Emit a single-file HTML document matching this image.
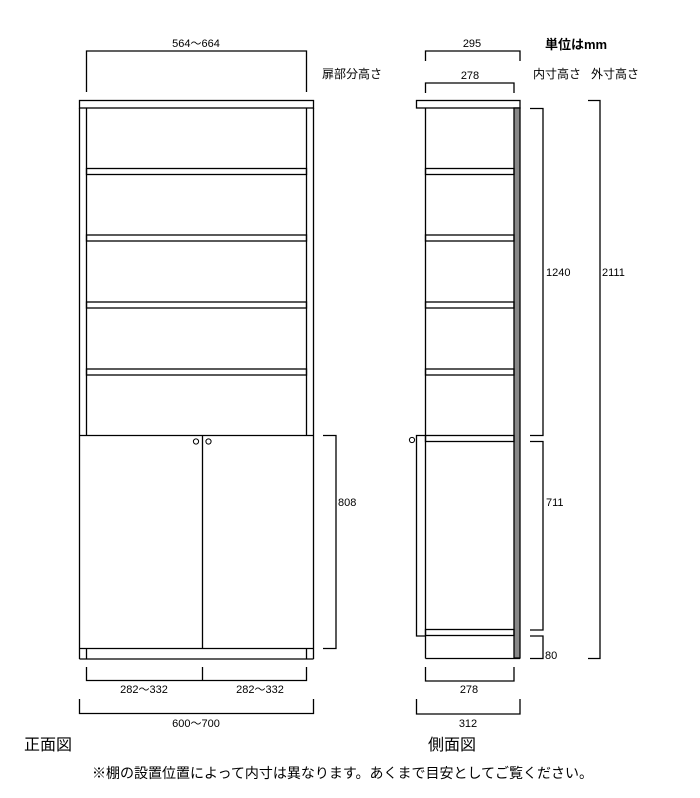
<!DOCTYPE html>
<html><head><meta charset="utf-8"><style>
body{margin:0;background:#fff;}
svg{display:block;}
text{font-family:"Liberation Sans","Noto Sans CJK JP",sans-serif;fill:#000;}
</style></head><body>
<svg width="700" height="798" viewBox="0 0 700 798" xmlns="http://www.w3.org/2000/svg">
<g fill="none" stroke="#000" stroke-width="1.3">
<!-- FRONT -->
<rect x="79.5" y="100.5" width="234" height="7.5" fill="#fff"/>
<line x1="79.5" y1="108" x2="79.5" y2="659"/>
<line x1="86.5" y1="108" x2="86.5" y2="435"/>
<line x1="306.5" y1="108" x2="306.5" y2="435"/>
<line x1="313.5" y1="108" x2="313.5" y2="659"/>
<rect x="86.5" y="168.5" width="220" height="6"/>
<rect x="86.5" y="235" width="220" height="6"/>
<rect x="86.5" y="302" width="220" height="6"/>
<rect x="86.5" y="369" width="220" height="6"/>
<line x1="79.5" y1="435.5" x2="313.5" y2="435.5"/>
<line x1="202.5" y1="435.5" x2="202.5" y2="648"/>
<line x1="79.5" y1="648.5" x2="313.5" y2="648.5"/>
<line x1="79.5" y1="659" x2="313.5" y2="659"/>
<line x1="86.5" y1="648.5" x2="86.5" y2="659"/>
<line x1="306.5" y1="648.5" x2="306.5" y2="659"/>
<circle cx="196" cy="441.5" r="2.6" stroke-width="1"/>
<circle cx="208.5" cy="441.5" r="2.6" stroke-width="1"/>
<!-- front dims -->
<polyline points="86.5,92 86.5,51 306.5,51 306.5,92"/>
<polyline points="323,435.5 336,435.5 336,648.5 323,648.5"/>
<polyline points="86.5,667 86.5,680.5 306.5,680.5 306.5,667"/>
<line x1="202.5" y1="667" x2="202.5" y2="680.5"/>
<polyline points="79.5,699 79.5,713.5 313.5,713.5 313.5,699"/>
<!-- SIDE -->
<rect x="416.5" y="100.5" width="103.5" height="7.5" fill="#fff"/>
<rect x="514" y="108" width="6" height="550" fill="#888"/>
<line x1="425.5" y1="108" x2="425.5" y2="658.5"/>
<rect x="425.5" y="168.5" width="88.5" height="6"/>
<rect x="425.5" y="235" width="88.5" height="6"/>
<rect x="425.5" y="302" width="88.5" height="6"/>
<rect x="425.5" y="369" width="88.5" height="6"/>
<rect x="425.5" y="435.5" width="88.5" height="6"/>
<rect x="425.5" y="629.5" width="88.5" height="6"/>
<line x1="425.5" y1="658.5" x2="520" y2="658.5"/>
<polyline points="425.5,435.5 416.5,435.5 416.5,636 425.5,636"/>
<circle cx="412" cy="440" r="2.6" stroke-width="1"/>
<!-- side dims -->
<polyline points="425.5,61 425.5,51 520,51 520,61"/>
<polyline points="425.5,93 425.5,83 514,83 514,93"/>
<polyline points="530,108.5 543,108.5 543,435.5 530,435.5"/>
<polyline points="530,441.5 543,441.5 543,630 530,630"/>
<polyline points="530,636 543,636 543,658.5 530,658.5"/>
<polyline points="588,100.5 600,100.5 600,658.5 588,658.5"/>
<polyline points="425.5,667 425.5,681 514,681 514,667"/>
<polyline points="416.5,699 416.5,714 520,714 520,699"/>
</g>
<g font-size="11">
<text x="196" y="47" text-anchor="middle">564～664</text>
<text x="472" y="47" text-anchor="middle">295</text>
<text x="470" y="79" text-anchor="middle">278</text>
<text x="322" y="78" font-size="12">扉部分高さ</text>
<text x="533" y="78" font-size="12">内寸高さ</text>
<text x="591" y="78" font-size="12">外寸高さ</text>
<text x="545" y="49" font-size="13" font-weight="bold">単位はmm</text>
<text x="546" y="276">1240</text>
<text x="602" y="276">2111</text>
<text x="338" y="506">808</text>
<text x="546" y="506">711</text>
<text x="545" y="659">80</text>
<text x="144" y="693" text-anchor="middle">282～332</text>
<text x="260" y="693" text-anchor="middle">282～332</text>
<text x="196" y="727" text-anchor="middle">600～700</text>
<text x="469" y="693" text-anchor="middle">278</text>
<text x="468" y="727" text-anchor="middle">312</text>
</g>
<text x="24" y="750" font-size="16">正面図</text>
<text x="428" y="750" font-size="16">側面図</text>
<text x="92" y="778" font-size="14">※棚の設置位置によって内寸は異なります。あくまで目安としてご覧ください。</text>
</svg>
</body></html>
